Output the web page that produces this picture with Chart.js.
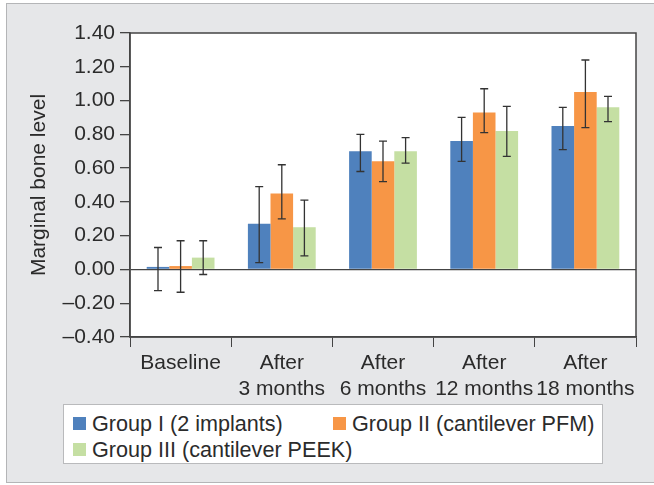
<!DOCTYPE html>
<html>
<head>
<meta charset="utf-8">
<script src="https://cdn.jsdelivr.net/npm/chart.js@4"></script>
<style>
  html, body { margin: 0; padding: 0; background: #fff; }
  #wrap { position: relative; width: 654px; height: 485px; }
  #legenda {
    position: absolute; left: 63px; top: 404px; width: 538px; height: 58px;
    background: #fff; border: 1px solid #b9babc;
    font-family: "Liberation Sans", Arial, sans-serif; font-size: 21.6px; color: #2b2b2b;
  }
  .legenda-item { position: absolute; height: 26px; line-height: 26px; white-space: nowrap; }
  .legenda-item .cor { position: absolute; left: 0; top: 6px; width: 13px; height: 13px; }
  .legenda-item span.txt { position: absolute; left: 19px; top: 0; }
</style>
</head>
<body>
<div id="wrap">
  <canvas id="grafico" width="654" height="485"></canvas>
  <div id="legenda"></div>
</div>
<script>
// dados
const categorias = ["Baseline", ["After", "3 months"], ["After", "6 months"], ["After", "12 months"], ["After", "18 months"]];
const grupos = ["Group I (2 implants)", "Group II (cantilever PFM)", "Group III (cantilever PEEK)"];
const cores = ["#4f81bd", "#f79646", "#c5dfa3"];

const grupo1 = [0.015, 0.27, 0.70, 0.76, 0.85];
const grupo1Min = [-0.125, 0.04, 0.58, 0.64, 0.71];
const grupo1Max = [0.13, 0.49, 0.80, 0.90, 0.96];

const grupo2 = [0.02, 0.45, 0.64, 0.93, 1.05];
const grupo2Min = [-0.135, 0.30, 0.52, 0.81, 0.84];
const grupo2Max = [0.17, 0.62, 0.76, 1.07, 1.24];

const grupo3 = [0.07, 0.25, 0.70, 0.82, 0.96];
const grupo3Min = [-0.03, 0.08, 0.63, 0.67, 0.875];
const grupo3Max = [0.17, 0.41, 0.78, 0.965, 1.025];

const yTicks = [-0.4, -0.2, 0, 0.2, 0.4, 0.6, 0.8, 1.0, 1.2, 1.4];

const valores = [grupo1, grupo2, grupo3];
const minimos = [grupo1Min, grupo2Min, grupo3Min];
const maximos = [grupo1Max, grupo2Max, grupo3Max];

const fonte = "'Liberation Sans', Arial, sans-serif";
const corTexto = "#2b2b2b";

// fundo cinza + moldura + barras de erro
const fundo = {
  id: "fundo",
  beforeDraw(chart) {
    const c = chart.ctx;
    c.save();
    c.fillStyle = "#fff";
    c.fillRect(0, 0, chart.width, chart.height);
    c.fillStyle = "#e6e7e9";
    c.fillRect(6, 3, chart.width, 480);
    c.strokeStyle = "#b4b5b7";
    c.lineWidth = 1;
    c.strokeRect(6.5, 3.5, chart.width + 10, 479);
    const a = chart.chartArea;
    c.fillStyle = "#fff";
    c.fillRect(a.left, a.top, a.right - a.left, a.bottom - a.top);
    c.restore();
  },
  afterDatasetsDraw(chart) {
    const c = chart.ctx;
    const a = chart.chartArea;
    const y = chart.scales.y;
    c.save();
    c.strokeStyle = "#333";
    c.lineWidth = 1.3;
    chart.data.datasets.forEach((ds, i) => {
      const meta = chart.getDatasetMeta(i);
      meta.data.forEach((bar, j) => {
        const yLo = y.getPixelForValue(minimos[i][j]);
        const yHi = y.getPixelForValue(maximos[i][j]);
        c.beginPath();
        c.moveTo(bar.x, yLo); c.lineTo(bar.x, yHi);
        c.moveTo(bar.x - 4, yLo); c.lineTo(bar.x + 4, yLo);
        c.moveTo(bar.x - 4, yHi); c.lineTo(bar.x + 4, yHi);
        c.stroke();
      });
    });
    // caixa do gráfico
    c.strokeStyle = "#444";
    c.lineWidth = 1.5;
    c.strokeRect(a.left, a.top, a.right - a.left, a.bottom - a.top);
    c.restore();
  }
};

new Chart(document.getElementById("grafico"), {
  type: "bar",
  data: {
    labels: categorias,
    datasets: grupos.map((g, i) => ({
      label: g,
      data: valores[i],
      backgroundColor: cores[i],
      borderWidth: 0,
      categoryPercentage: 0.67,
      barPercentage: 1.0
    }))
  },
  options: {
    responsive: false,
    animation: false,
    devicePixelRatio: 1,
    layout: { padding: { left: 27, top: 33, right: 18, bottom: 85 } },
    plugins: {
      legend: { display: false },
      tooltip: { enabled: false }
    },
    scales: {
      x: {
        grid: { drawOnChartArea: false, tickLength: 10, tickColor: "#444", offset: true },
        border: { color: "#444", width: 1.5 },
        ticks: { color: corTexto, font: { family: fonte, size: 21 }, padding: 4, maxRotation: 0, autoSkip: false },
        afterFit(s) { s.height = 63; }
      },
      y: {
        min: -0.4,
        max: 1.4,
        afterBuildTicks(s) { s.ticks = yTicks.map(v => ({ value: v })); },
        grid: {
          color: ctx => (ctx.tick && ctx.tick.value === 0) ? "#444" : "rgba(0,0,0,0)",
          lineWidth: 1.3,
          tickColor: "#444",
          tickLength: 10
        },
        border: { color: "#444", width: 1.5 },
        ticks: {
          color: corTexto,
          font: { family: fonte, size: 21 },
          padding: 5,
          callback: v => v.toFixed(2).replace("-", "\u2013")
        },
        title: {
          display: true,
          text: "Marginal bone level",
          color: corTexto,
          font: { family: fonte, size: 21 },
          padding: 0
        },
        afterFit(s) { s.width = 103; }
      }
    }
  },
  plugins: [fundo]
});

// legenda
const legenda = document.getElementById("legenda");
grupos.forEach((g, i) => {
  const col = i % 2, row = Math.floor(i / 2);
  const left = col === 0 ? 9 : 269;
  const top = 6 + row * 26;
  legenda.innerHTML += `
    <div class="legenda-item" style="left:${left}px; top:${top}px">
      <span class="cor" style="background:${cores[i]}"></span>
      <span class="txt">${g}</span>
    </div>`;
});
</script>
</body>
</html>
